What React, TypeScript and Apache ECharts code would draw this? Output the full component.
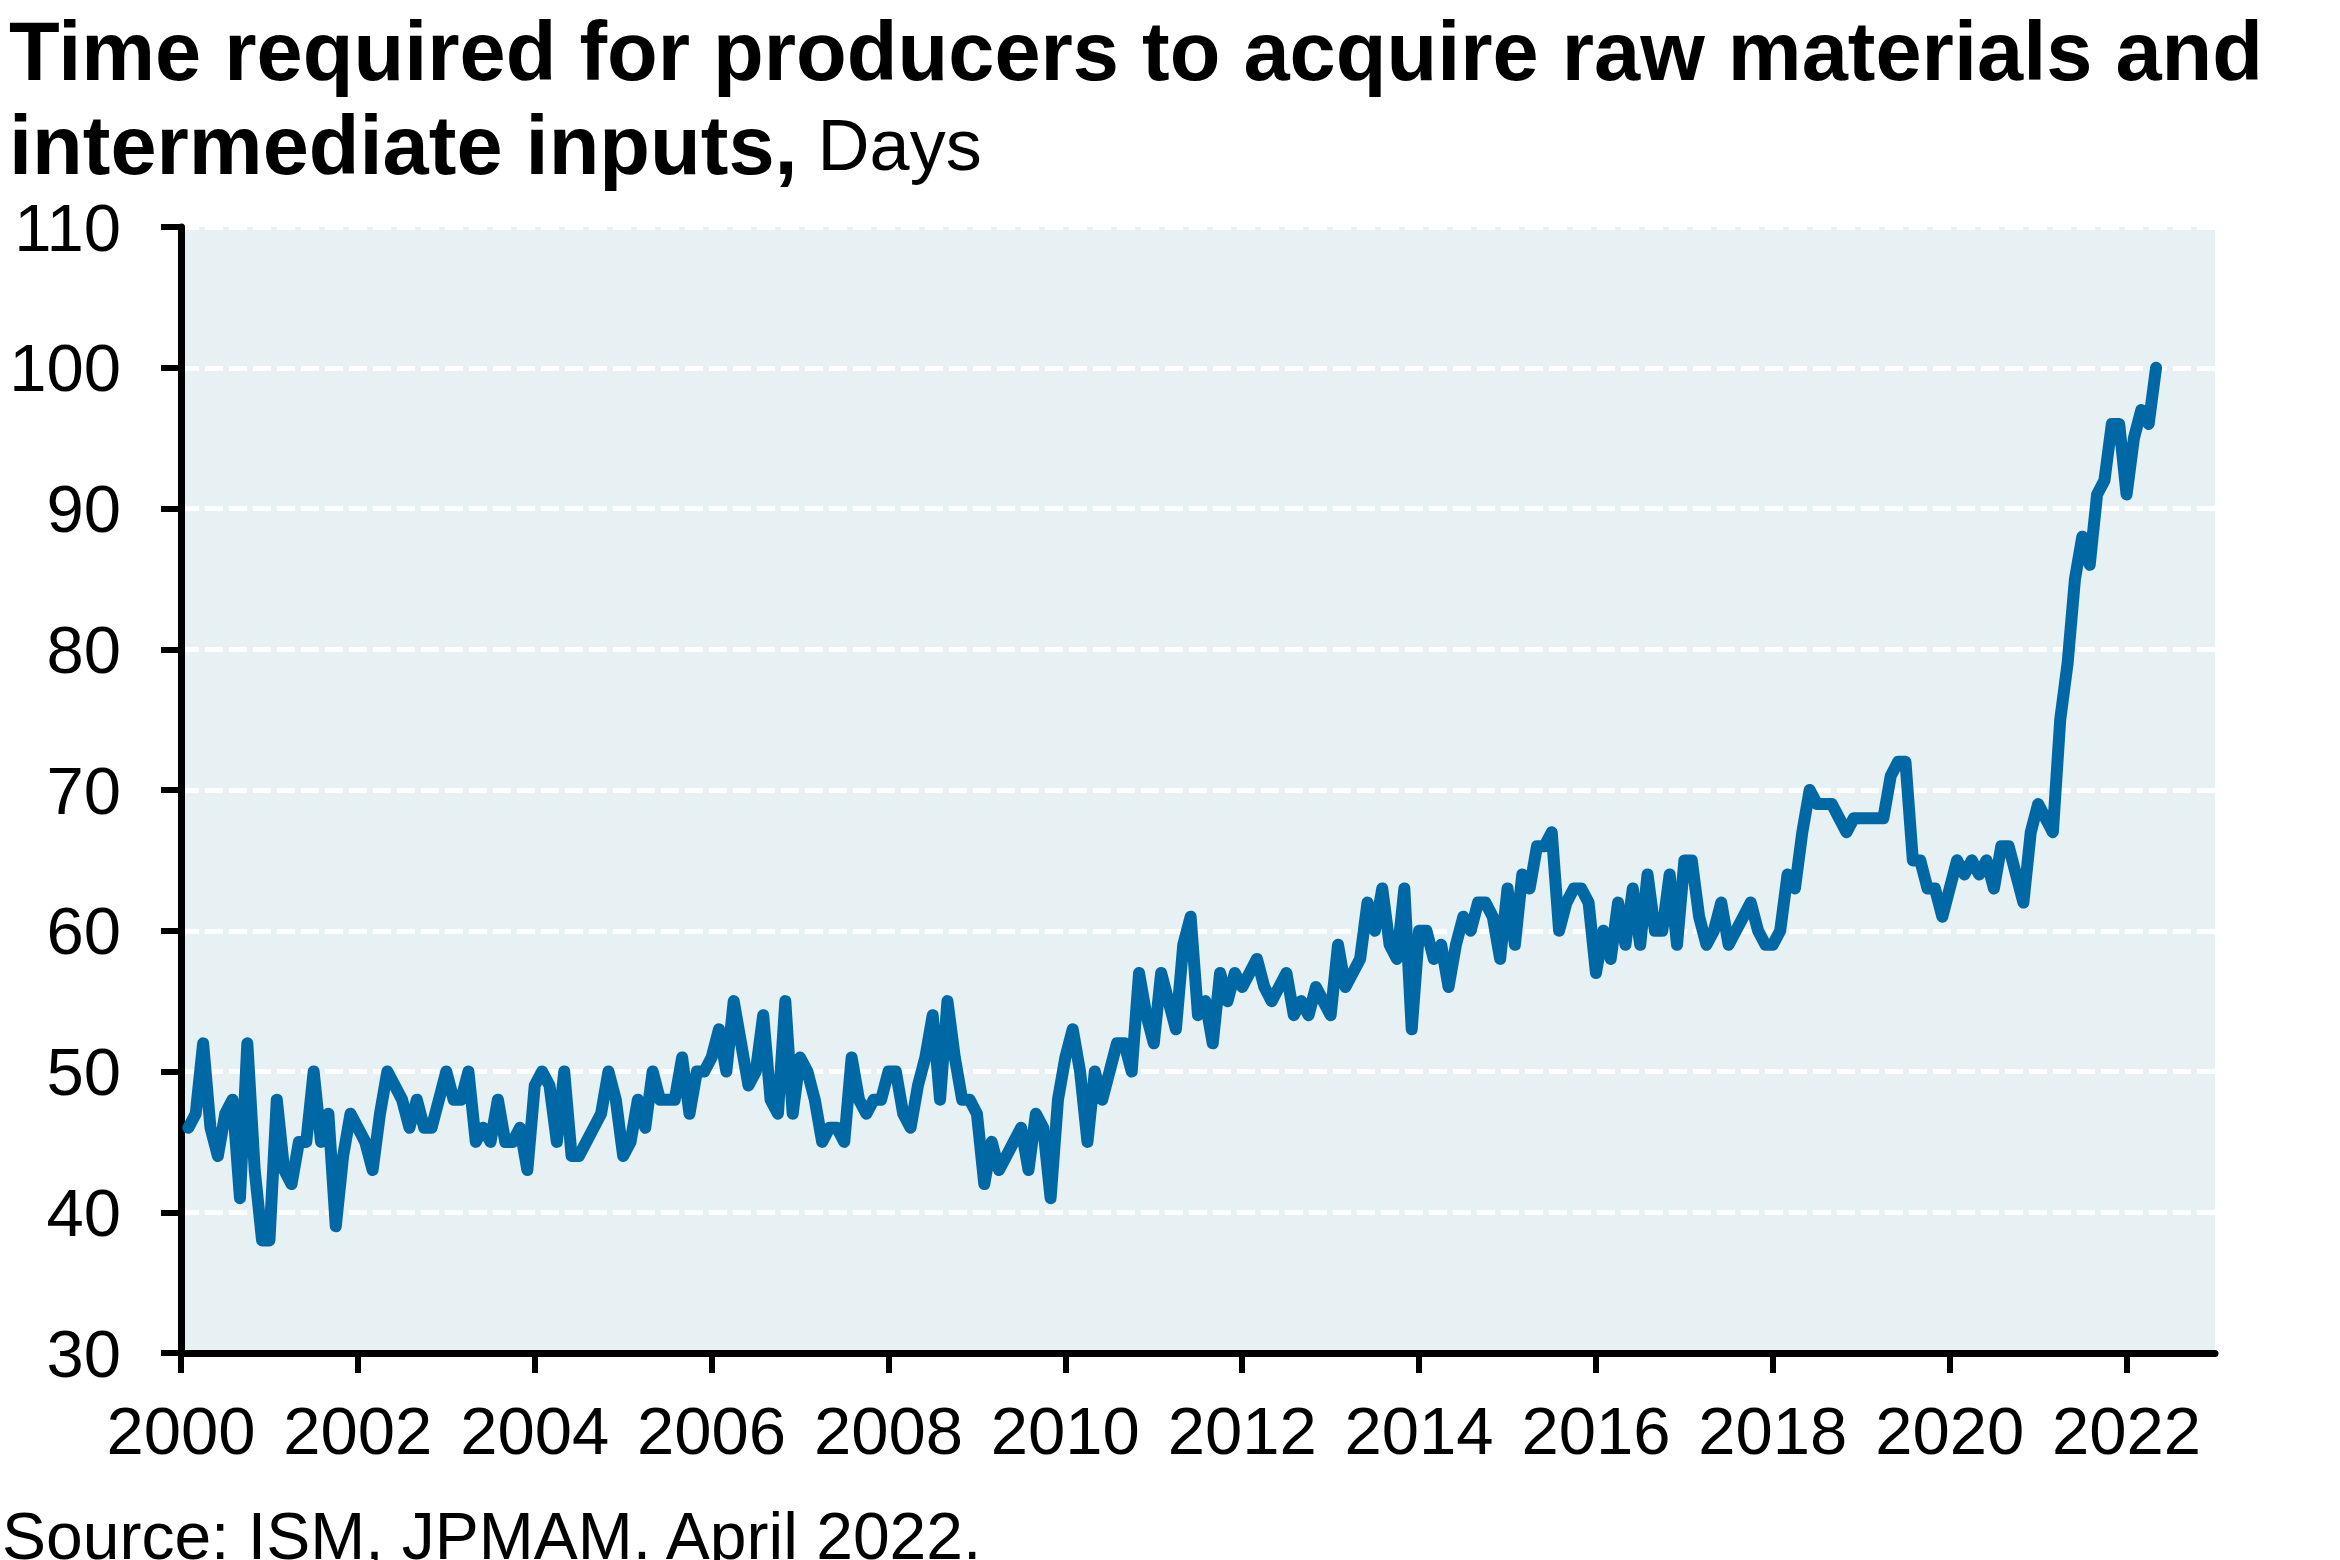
import React, { useEffect, useRef } from "react";
import * as echarts from "echarts";

// Monthly values (days), month-end observations
const y2000 = [46, 47, 52, 46, 44, 47, 48, 41, 52, 43, 38, 38];
const y2001 = [48, 43, 42, 45, 45, 50, 45, 47, 39, 44, 47, 46];
const y2002 = [45, 43, 47, 50, 49, 48, 46, 48, 46, 46, 48, 50];
const y2003 = [48, 48, 50, 45, 46, 45, 48, 45, 45, 46, 43, 49];
const y2004 = [50, 49, 45, 50, 44, 44, 45, 46, 47, 50, 48, 44];
const y2005 = [45, 48, 46, 50, 48, 48, 48, 51, 47, 50, 50, 51];
const y2006 = [53, 50, 55, 52, 49, 50, 54, 48, 47, 55, 47, 51];
const y2007 = [50, 48, 45, 46, 46, 45, 51, 48, 47, 48, 48, 50];
const y2008 = [50, 47, 46, 49, 51, 54, 48, 55, 51, 48, 48, 47];
const y2009 = [42, 45, 43, 44, 45, 46, 43, 47, 46, 41, 48, 51];
const y2010 = [53, 50, 45, 50, 48, 50, 52, 52, 50, 57, 54, 52];
const y2011 = [57, 55, 53, 59, 61, 54, 55, 52, 57, 55, 57, 56];
const y2012 = [57, 58, 56, 55, 56, 57, 54, 55, 54, 56, 55, 54];
const y2013 = [59, 56, 57, 58, 62, 60, 63, 59, 58, 63, 53, 60];
const y2014 = [60, 58, 59, 56, 59, 61, 60, 62, 62, 61, 58, 63];
const y2015 = [59, 64, 63, 66, 66, 67, 60, 62, 63, 63, 62, 57];
const y2016 = [60, 58, 62, 59, 63, 59, 64, 60, 60, 64, 59, 65];
const y2017 = [65, 61, 59, 60, 62, 59, 60, 61, 62, 60, 59, 59];
const y2018 = [60, 64, 63, 67, 70, 69, 69, 69, 68, 67, 68, 68];
const y2019 = [68, 68, 68, 71, 72, 72, 65, 65, 63, 63, 61, 63];
const y2020 = [65, 64, 65, 64, 65, 63, 66, 66, 64, 62, 67, 69];
const y2021 = [68, 67, 75, 79, 85, 88, 86, 91, 92, 96, 96, 91];
const y2022 = [95, 97, 96, 100];

const yearTicks = [2000, 2002, 2004, 2006, 2008, 2010, 2012, 2014, 2016, 2018, 2020, 2022];

const titleLine1 = "Time required for producers to acquire raw materials and";
const titleLine2 = "intermediate inputs,";
const titleUnit = " Days";
const sourceText = "Source: ISM, JPMAM. April 2022.";

const FONT = '"Liberation Sans", Arial, Helvetica, sans-serif';

export default function App() {
  const ref = useRef<HTMLDivElement>(null);

  useEffect(() => {
    if (!ref.current) return;
    const chart = echarts.init(ref.current, undefined, { renderer: "svg" });
    const all = [
      ...y2000, ...y2001, ...y2002, ...y2003, ...y2004, ...y2005, ...y2006, ...y2007,
      ...y2008, ...y2009, ...y2010, ...y2011, ...y2012, ...y2013, ...y2014, ...y2015,
      ...y2016, ...y2017, ...y2018, ...y2019, ...y2020, ...y2021, ...y2022,
    ];
    // month-end date as fractional year
    const data = all.map((v, i) => [2000 + (i + 1) / 12, v]);

    chart.setOption({
      animation: false,
      backgroundColor: "#ffffff",
      title: {
        left: 4,
        top: -1,
        text: `{b|${titleLine1}}\n{b|${titleLine2}}{n|${titleUnit}}`,
        textStyle: {
          rich: {
            b: { fontFamily: FONT, fontSize: 83, fontWeight: "bold", color: "#000", lineHeight: 94 },
            n: { fontFamily: FONT, fontSize: 72, fontWeight: "normal", color: "#000", lineHeight: 94 },
          },
        },
      },
      graphic: [
        {
          type: "text",
          left: 2,
          top: 1503,
          style: { text: sourceText, font: `66px ${FONT}`, fill: "#000" },
        },
      ],
      grid: {
        left: 181,
        right: 125,
        top: 227,
        bottom: 207,
        show: true,
        backgroundColor: "#E7F0F3",
        borderWidth: 0,
      },
      xAxis: {
        type: "value",
        min: 2000,
        max: 2023,
        interval: 2,
        axisLine: { show: true, onZero: false, lineStyle: { color: "#000", width: 7 } },
        axisTick: { show: true, length: 20, inside: false, customValues: yearTicks, lineStyle: { color: "#000", width: 6 } },
        axisLabel: {
          customValues: yearTicks,
          margin: 44,
          fontFamily: FONT,
          fontSize: 67,
          color: "#000",
          formatter: (v: number) => String(Math.round(v)),
        },
        splitLine: { show: false },
      },
      yAxis: {
        type: "value",
        min: 30,
        max: 110,
        interval: 10,
        axisLine: { show: true, lineStyle: { color: "#000", width: 7 } },
        axisTick: { show: true, length: 20, inside: false, lineStyle: { color: "#000", width: 6 } },
        axisLabel: { margin: 60, fontFamily: FONT, fontSize: 67, color: "#000" },
        splitLine: { show: true, lineStyle: { color: "#ffffff", width: 5, type: [18, 6] } },
      },
      series: [
        {
          type: "line",
          data,
          showSymbol: false,
          symbol: "none",
          lineStyle: { color: "#0069A5", width: 12, join: "round", cap: "round" },
          z: 3,
        },
      ],
    });
    return () => chart.dispose();
  }, []);

  return (
    <div
      ref={ref}
      style={{ position: "fixed", left: 0, top: 0, width: 2340, height: 1560 }}
    />
  );
}
